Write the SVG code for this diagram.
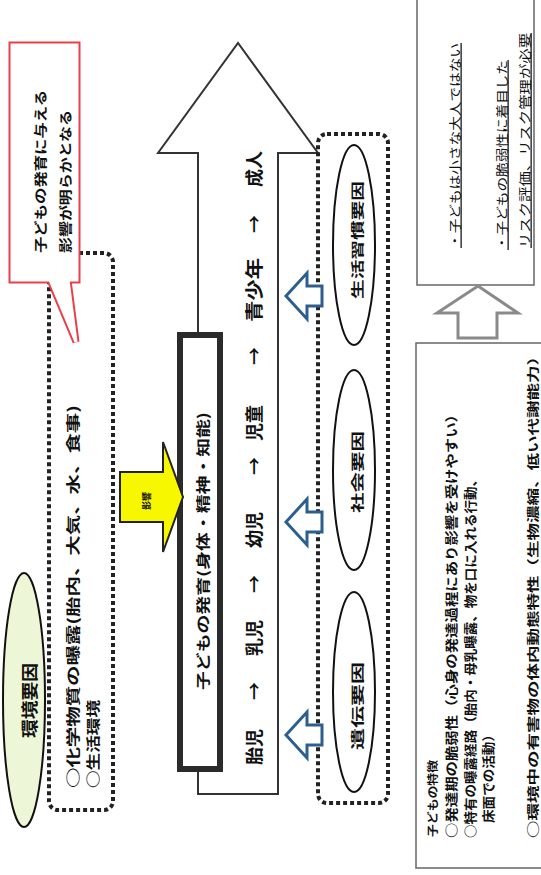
<svg xmlns="http://www.w3.org/2000/svg" width="541" height="875" viewBox="0 0 541 875">
<style>
text{font-family:"Noto Sans CJK JP","Noto Sans",sans-serif;fill:#111;dominant-baseline:central}
.b{font-weight:700}
.dot{fill:none;stroke:#222;stroke-width:4;stroke-dasharray:4 3}
.ell{fill:#fff;stroke:#111;stroke-width:2}
.blue{fill:#fff;stroke:#2d5f8e;stroke-width:3;stroke-linejoin:miter}
.box{fill:#fff;stroke:#666;stroke-width:1.5}
</style>
<rect width="541" height="875" fill="#fff"/>

<g id="env-group">
<rect class="dot" x="49" y="253" width="64" height="557" rx="9"/>
<text class="b" font-size="14" transform="translate(71.5,788) rotate(-90)" textLength="383" lengthAdjust="spacingAndGlyphs">○化学物質の曝露(胎内、大気、水、食事)</text>
<text class="b" font-size="14" transform="translate(91.5,788) rotate(-90)" textLength="88" lengthAdjust="spacingAndGlyphs">○生活環境</text>
</g>

<g id="env-factor">
<ellipse cx="24" cy="700" rx="21" ry="127" fill="#eef6d8" stroke="#111" stroke-width="2"/>
<text class="b" font-size="17" transform="translate(28.5,738) rotate(-90)" textLength="75" lengthAdjust="spacingAndGlyphs">環境要因</text>
</g>

<g id="callout">
<path d="M12,45 H77 V280 H68 L76,342 L50,280 H12 Z" fill="#fff" stroke="#e8404a" stroke-width="7" stroke-linejoin="miter"/>
<path d="M12,45 H77 V280 H68 L76,342 L50,280 H12 Z" fill="#fff" stroke="#fff" stroke-width="3" stroke-linejoin="miter"/>
<text class="b" font-size="13" transform="translate(39,253) rotate(-90)" textLength="163" lengthAdjust="spacingAndGlyphs">子どもの発育に与える</text>
<text class="b" font-size="13" transform="translate(64,253) rotate(-90)" textLength="143" lengthAdjust="spacingAndGlyphs">影響が明らかとなる</text>
</g>

<g id="growth-arrow">
<path d="M198,794 V153 H158 L238,43 L318,153 H278 V794 Z" fill="#fff" stroke="#333" stroke-width="2"/>
<g class="b" font-size="18" text-anchor="middle">
<text transform="translate(253,747) rotate(-90)">胎児</text>
<text transform="translate(253,691) rotate(-90)">→</text>
<text transform="translate(253,638) rotate(-90)">乳児</text>
<text transform="translate(253,584) rotate(-90)">→</text>
<text transform="translate(253,530) rotate(-90)">幼児</text>
<text transform="translate(253,466) rotate(-90)">→</text>
<text transform="translate(253,423) rotate(-90)">児童</text>
<text transform="translate(253,356) rotate(-90)">→</text>
<text transform="translate(253,290) rotate(-90)" textLength="64" lengthAdjust="spacingAndGlyphs">青少年</text>
<text transform="translate(253,224) rotate(-90)">→</text>
<text transform="translate(253,169) rotate(-90)">成人</text>
</g>
</g>

<g id="development">
<rect x="180" y="335" width="40" height="434" fill="#fff" stroke="#2b2b2b" stroke-width="6"/>
<text class="b" font-size="14" transform="translate(201.5,690) rotate(-90)" textLength="278" lengthAdjust="spacingAndGlyphs">子どもの発育(身体・精神・知能)</text>
</g>

<g id="factors">
<rect class="dot" x="318" y="134" width="70" height="669" rx="9"/>
</g>
<g id="lifestyle">
<ellipse class="ell" cx="354" cy="245" rx="21" ry="100"/>
<text class="b" font-size="13" text-anchor="middle" transform="translate(356,240) rotate(-90)" textLength="118" lengthAdjust="spacingAndGlyphs">生活習慣要因</text>
</g>
<g id="social">
<ellipse class="ell" cx="354" cy="470" rx="21" ry="100"/>
<text class="b" font-size="13" text-anchor="middle" transform="translate(356,472) rotate(-90)" textLength="82" lengthAdjust="spacingAndGlyphs">社会要因</text>
</g>
<g id="genetic">
<ellipse class="ell" cx="354" cy="692" rx="21" ry="100"/>
<text class="b" font-size="13" text-anchor="middle" transform="translate(356,706) rotate(-90)" textLength="88" lengthAdjust="spacingAndGlyphs">遺伝要因</text>
</g>

<g id="conclusion">
<rect class="box" x="417" y="-5" width="117" height="290"/>
<text font-size="12.5" transform="translate(454,248) rotate(-90)" textLength="205" lengthAdjust="spacingAndGlyphs" text-decoration="underline">・子どもは小さな大人ではない</text>
<text font-size="12.5" transform="translate(501,250) rotate(-90)" textLength="190" lengthAdjust="spacingAndGlyphs" text-decoration="underline">・子どもの脆弱性に着目した</text>
<text font-size="12.5" transform="translate(524,248) rotate(-90)" textLength="215" lengthAdjust="spacingAndGlyphs" text-decoration="underline">リスク評価、リスク管理が必要</text>
</g>

<g id="characteristics">
<rect class="box" x="416" y="343" width="135" height="525"/>
<text class="b" font-size="11" transform="translate(432,837) rotate(-90)" textLength="77" lengthAdjust="spacingAndGlyphs">子どもの特徴</text>
<text class="b" font-size="13" transform="translate(450,838) rotate(-90)" textLength="431" lengthAdjust="spacingAndGlyphs">○発達期の脆弱性（心身の発達過程にあり影響を受けやすい）</text>
<text class="b" font-size="13" transform="translate(469,838) rotate(-90)" textLength="365" lengthAdjust="spacingAndGlyphs">○特有の曝露経路（胎内・母乳曝露、物を口に入れる行動、</text>
<text class="b" font-size="13" transform="translate(487,823) rotate(-90)" textLength="95" lengthAdjust="spacingAndGlyphs">床面での活動）</text>
<text class="b" font-size="12" transform="translate(532,838) rotate(-90)" textLength="490" lengthAdjust="spacingAndGlyphs">○環境中の有害物の体内動態特性（生物濃縮、低い代謝能力）</text>
</g>

<g id="connectors">
<path d="M120,472 H163 V442 L183,497 L163,552 V522 H120 Z" fill="#f7f700" stroke="#222" stroke-width="2"/>
<text class="b" font-size="9" text-anchor="middle" transform="translate(146,501) rotate(-90)">影響</text>
<path class="blue" d="M286,296 L307,273 V286 H322 V306 H307 V319 Z"/>
<path class="blue" d="M286,522 L307,499 V512 H322 V532 H307 V545 Z"/>
<path class="blue" d="M286,735 L307,712 V725 H322 V745 H307 V758 Z"/>
<path d="M478,286 L518,313 H497 V338 H458 V313 H437 Z" fill="#fff" stroke="#8a8a8a" stroke-width="3"/>
</g>
</svg>
